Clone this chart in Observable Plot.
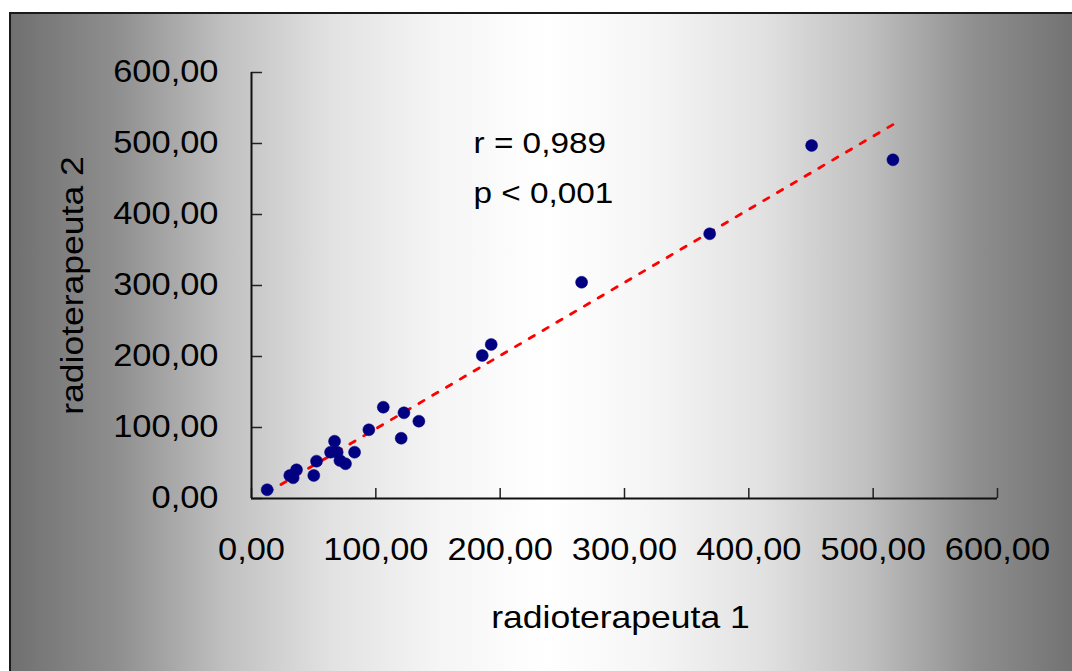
<!DOCTYPE html>
<html>
<head>
<meta charset="utf-8">
<script src="https://cdn.jsdelivr.net/npm/d3@7"></script>
<script src="https://cdn.jsdelivr.net/npm/@observablehq/plot@0.6"></script>
<style>
  html, body { margin: 0; padding: 0; background: #ffffff; overflow: hidden; }
  #wrap { position: relative; width: 1072px; height: 671px; overflow: hidden; }
  #bg {
    position: absolute; left: 9px; top: 12px; width: 1070px; height: 670px;
    border-top: 2px solid #1a1a1a; border-left: 2px solid #1a1a1a;
    background: linear-gradient(to right, #707070 0%, #8f8f8f 10%, #c0c0c0 20%, #e2e2e2 30%, #f5f5f5 40%, #ffffff 50%, #f5f5f5 60%, #e2e2e2 70%, #c0c0c0 80%, #8f8f8f 90%, #707070 100%);
  }
  #chart { position: absolute; left: 0; top: 0; }
</style>
</head>
<body>
<div id="wrap"><div id="bg"></div><div id="chart"></div></div>
<script>
// radioterapeuta 1 (x) and radioterapeuta 2 (y) measurements
const xValues = [12.6, 30.8, 36.2, 33.5, 50.1, 52.3, 66.8, 63.6, 68.9, 71.1, 75.6, 82.9, 94.4, 106.0, 122.6, 134.6, 120.4, 185.6, 192.8, 265.5, 368.5, 450.5, 515.9];
const yValues = [12.3, 32.4, 40.4, 29.2, 32.4, 52.6, 80.7, 65.2, 65.2, 53.5, 48.9, 65.2, 96.8, 128.6, 120.7, 108.9, 84.9, 201.4, 216.9, 304.6, 372.8, 497.2, 477.0];
const xTicks = [0, 100, 200, 300, 400, 500, 600];
const yTicks = [0, 100, 200, 300, 400, 500, 600];
const xTitle = "radioterapeuta 1";
const yTitle = "radioterapeuta 2";
const statsLabels = ["r = 0,989", "p < 0,001"];

const points = xValues.map((x, i) => ({x, y: yValues[i]}));
const fmt = d => d.toFixed(2).replace(".", ",");
const FONT = "'Liberation Sans', Arial, Helvetica, sans-serif";

const W = 1072, H = 671, mL = 251, mR = 75, mT = 72, mB = 173;
const innerW = W - mL - mR, innerH = H - mT - mB;

const chart = Plot.plot({
  width: W, height: H,
  marginLeft: mL, marginRight: mR, marginTop: mT, marginBottom: mB,
  style: {background: "transparent", fontFamily: FONT, color: "#000", overflow: "visible"},
  x: {domain: [0, 600]},
  y: {domain: [0, 600]},
  marks: [
    Plot.tickX(xTicks, {x: d => d, insetTop: innerH - 10, stroke: "#222", strokeWidth: 1.5}),
    Plot.tickY(yTicks, {y: d => d, insetRight: innerW - 11, stroke: "#222", strokeWidth: 1.5}),
    Plot.ruleX([0], {stroke: "#111", strokeWidth: 2}),
    Plot.ruleY([0], {stroke: "#111", strokeWidth: 2}),
    Plot.axisX({ticks: xTicks, tickSize: 0, tickPadding: 39, tickFormat: fmt, fontSize: 31, label: null, fill: "#000"}),
    Plot.axisY({ticks: yTicks, tickSize: 0, tickPadding: 33, tickFormat: fmt, fontSize: 31, label: null, fill: "#000"}),
    Plot.linearRegressionY(points, {x: "x", y: "y", stroke: "#ff0000", strokeWidth: 2.8, strokeDasharray: "6,10", ci: 0}),
    Plot.dot(points, {x: "x", y: "y", r: 6, fill: "#000080", stroke: "#000080", strokeWidth: 0.5}),
    Plot.text([statsLabels[0]], {x: 178.6, y: 487.3, text: d => d, textAnchor: "start", lineAnchor: "bottom", fontSize: 30, fill: "#000"}),
    Plot.text([statsLabels[1]], {x: 178.6, y: 416.9, text: d => d, textAnchor: "start", lineAnchor: "bottom", fontSize: 30, fill: "#000"}),
    Plot.text([xTitle], {frameAnchor: "bottom", text: d => d, textAnchor: "middle", lineAnchor: "bottom", dy: 129, dx: -4, fontSize: 32, fill: "#000"}),
    Plot.text([yTitle], {frameAnchor: "left", text: d => d, rotate: -90, textAnchor: "middle", lineAnchor: "bottom", dx: -169, fontSize: 32, fill: "#000"})
  ]
});

document.getElementById("chart").appendChild(chart);

// Stretch glyphs horizontally a little, like the reference rendering
chart.querySelectorAll("text").forEach(t => {
  if (t.querySelector("tspan")) return;
  const len = t.getComputedTextLength();
  if (len > 0) {
    t.setAttribute("textLength", (len * 1.11).toFixed(1));
    t.setAttribute("lengthAdjust", "spacingAndGlyphs");
  }
});
</script>
</body>
</html>
